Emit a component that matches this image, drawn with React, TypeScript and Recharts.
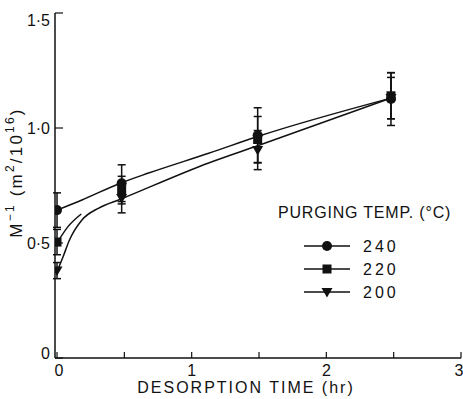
import React from 'react';
import { ComposedChart, Line, Scatter, ErrorBar, XAxis, YAxis, Legend } from 'recharts';

const FONT = '"Liberation Sans", Arial, Helvetica, sans-serif';
const INK = '#111';

// measured points: desorption time (hr), M^-1 and the error half-range
const times = [0, 0.48, 1.49, 2.48];
const m240 = [0.643, 0.76, 0.968, 1.126];
const e240 = [0.075, 0.08, 0.12, 0.115];
const m220 = [0.504, 0.73, 0.95, 1.14];
const e220 = [0.055, 0.06, 0.1, 0.1];
const m200 = [0.38, 0.696, 0.904, 1.13];
const e200 = [0.035, 0.065, 0.085, 0.09];

// hand-drawn fit curves
const fit240T = [0, 0.185, 0.47, 0.68, 1.126, 1.5, 2.48];
const fit240 = [0.643, 0.687, 0.76, 0.804, 0.89, 0.965, 1.13];
const fit220T = [0, 0.08, 0.18];
const fit220 = [0.5, 0.57, 0.626];
const fit200T = [0, 0.045, 0.09, 0.185, 0.31, 0.47, 1.126, 1.5, 2.48];
const fit200 = [0.375, 0.44, 0.51, 0.6, 0.652, 0.69, 0.848, 0.925, 1.13];

const xTicks = [0, 0.5, 1, 1.5, 2, 2.5, 3];
const yTicks = [0, 0.5, 1, 1.5];

const pts = (ys: number[], errs: number[]) => times.map((x, i) => ({ x, y: ys[i], err: errs[i] }));
const curve = (xs: number[], ys: number[]) => xs.map((x, i) => ({ x, y: ys[i] }));

const SERIES = [
  { name: '240', shape: 'circle', data: pts(m240, e240), fit: curve(fit240T, fit240) },
  { name: '220', shape: 'square', data: pts(m220, e220), fit: curve(fit220T, fit220) },
  { name: '200', shape: 'triangle', data: pts(m200, e200), fit: curve(fit200T, fit200) },
];

function marker(shape: string, cx: number, cy: number) {
  if (shape === 'circle') return <circle cx={cx} cy={cy} r={5} fill={INK} />;
  if (shape === 'square') return <rect x={cx - 4.5} y={cy - 4.5} width={9} height={9} fill={INK} />;
  return <path d={`M${cx - 5.5},${cy - 4} L${cx + 5.5},${cy - 4} L${cx},${cy + 5.5} Z`} fill={INK} />;
}

const textStyle = { fontFamily: FONT, fontSize: 16, fill: INK };

const XTick = ({ x, y, payload }: any) => {
  const v = payload.value;
  if (v % 1 !== 0) return null;
  return (
    <text x={x + (v === 0 ? 2 : 0)} y={y} textAnchor="middle" dominantBaseline="central" style={textStyle}>
      {v}
    </text>
  );
};

const YTick = ({ x, y, payload }: any) => {
  const v = payload.value;
  const dy = v === 1.5 ? 7 : v === 0 ? -5 : 0;
  const label = v === 0 ? '0' : v.toFixed(1).replace('.', '·');
  return (
    <text x={x} y={y + dy} textAnchor="end" dominantBaseline="central" style={textStyle}>
      {label}
    </text>
  );
};

const XLabel = ({ viewBox }: any) => (
  <text x={viewBox.x + viewBox.width / 2 - 12} y={viewBox.y + 35} textAnchor="middle"
    style={{ ...textStyle, letterSpacing: 2 }}>
    DESORPTION TIME (hr)
  </text>
);

const YLabel = ({ viewBox }: any) => (
  <text transform={`translate(${viewBox.x + 16}, ${viewBox.y + viewBox.height / 2 - 13}) rotate(-90)`}
    textAnchor="middle" dominantBaseline="central" style={{ ...textStyle, fontSize: 17, letterSpacing: 2.2 }}>
    M<tspan dy={-6} fontSize={12}>−1</tspan>
    <tspan dy={6}>{'  (m'}</tspan>
    <tspan dy={-6} fontSize={12}>2</tspan>
    <tspan dy={6}>/10</tspan>
    <tspan dy={-6} fontSize={12}>16</tspan>
    <tspan dy={6}>)</tspan>
  </text>
);

const renderLegend = () => (
  <svg width={190} height={105}>
    <text x={2} y={17} style={{ ...textStyle, letterSpacing: 0.8 }}>PURGING TEMP. (°C)</text>
    {SERIES.map((s, i) => (
      <g key={s.name} transform={`translate(0, ${45 + i * 23})`}>
        <line x1={28} x2={74} y1={0} y2={0} stroke={INK} strokeWidth={1.5} />
        {marker(s.shape, 51, 0)}
        <text x={87} y={0} dominantBaseline="central" style={{ ...textStyle, letterSpacing: 3 }}>{s.name}</text>
      </g>
    ))}
  </svg>
);

const axisLine = { stroke: INK, strokeWidth: 1.5 };
const tickLine = { stroke: INK, strokeWidth: 1.2 };

export default function App() {
  return (
    <div style={{ position: 'absolute', left: 0, top: 0, width: 463, height: 399, background: '#fff' }}>
      <ComposedChart width={463} height={399} margin={{ top: 13, right: 2, bottom: 0, left: 0 }}>
        <XAxis xAxisId="b" dataKey="x" type="number" domain={[-0.015, 3]} ticks={xTicks} allowDataOverflow
          height={41} axisLine={axisLine} tickLine={tickLine} tickSize={-6} tickMargin={18}
          tick={<XTick />} label={{ content: <XLabel /> }} />
        <XAxis xAxisId="t" orientation="top" dataKey="x" type="number" domain={[-0.015, 3]} ticks={xTicks}
          allowDataOverflow height={0} axisLine={axisLine} tickLine={tickLine} tickSize={-6} tickFormatter={() => ''} />
        <YAxis yAxisId="l" type="number" domain={[0, 1.5]} ticks={yTicks} width={55}
          axisLine={axisLine} tickLine={tickLine} tickSize={-8} tickMargin={13}
          tick={<YTick />} label={{ content: <YLabel /> }} />
        <YAxis yAxisId="r" orientation="right" type="number" domain={[0, 1.5]} ticks={yTicks} width={0}
          axisLine={axisLine} tickLine={tickLine} tickSize={-8} tickFormatter={() => ''} />
        <Legend layout="horizontal" verticalAlign="middle" align="center" content={renderLegend}
          wrapperStyle={{ left: 276, top: 201, width: 190 }} />
        {SERIES.map(s => (
          <Line key={'fit' + s.name} xAxisId="b" yAxisId="l" data={s.fit} dataKey="y" type="monotone"
            stroke={INK} strokeWidth={1.5} dot={false} isAnimationActive={false} legendType="none" />
        ))}
        {SERIES.map(s => (
          <Scatter key={s.name} name={s.name} xAxisId="b" yAxisId="l" data={s.data} dataKey="y"
            shape={(p: any) => marker(s.shape, p.cx, p.cy)} isAnimationActive={false}>
            <ErrorBar dataKey="err" direction="y" width={4} stroke={INK} strokeWidth={1.5} isAnimationActive={false} />
          </Scatter>
        ))}
      </ComposedChart>
    </div>
  );
}
